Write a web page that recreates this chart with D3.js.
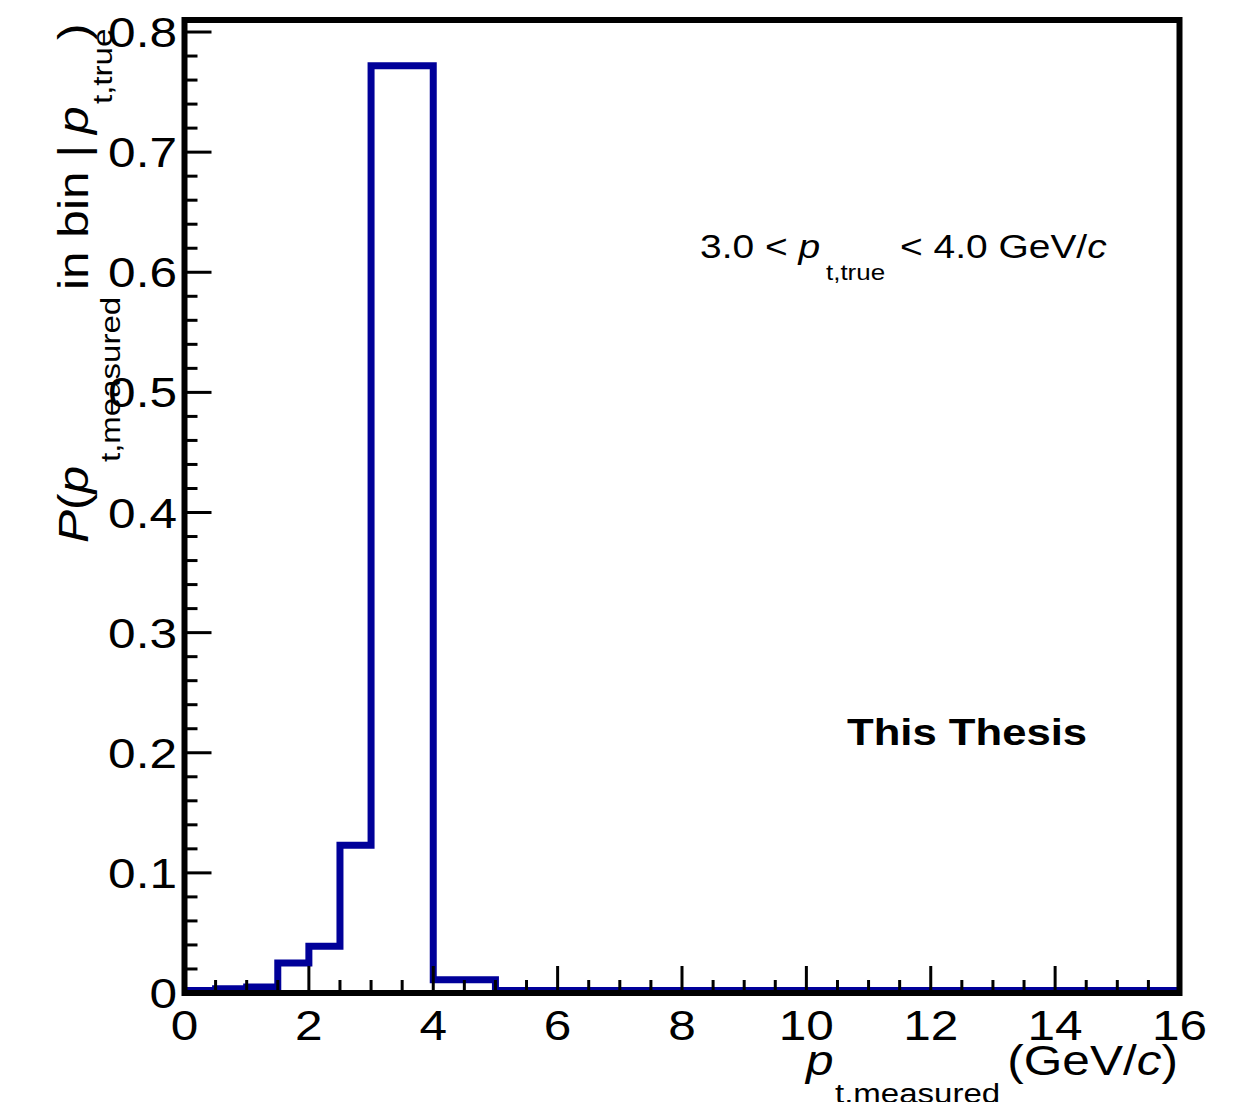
<!DOCTYPE html>
<html>
<head>
<meta charset="utf-8">
<script src="https://cdn.jsdelivr.net/npm/d3@7"></script>
<style>
  body { margin: 0; background: #fff; }
  text { font-family: "Liberation Sans", Arial, Helvetica, sans-serif; fill: #000; }
</style>
</head>
<body>
<div id="chart"></div>
<script>
// histogram: bin edges (GeV/c) and probability per bin
var binEdges  = [0, 0.5, 1.0, 1.5, 2.0, 2.5, 3.0, 4.0, 5.0, 6.0, 8.0, 10.0, 12.0, 16.0];
var binValues = [0.002, 0.0035, 0.005, 0.025, 0.039, 0.123, 0.772, 0.011, 0.002, 0.002, 0.002, 0.002, 0.002];

// axis ticks
var xMajor = [0, 2, 4, 6, 8, 10, 12, 14, 16];
var xLabels = ["0", "2", "4", "6", "8", "10", "12", "14", "16"];
var yMajor = [0, 0.1, 0.2, 0.3, 0.4, 0.5, 0.6, 0.7, 0.8];
var yLabels = ["0", "0.1", "0.2", "0.3", "0.4", "0.5", "0.6", "0.7", "0.8"];

var W = 1241, H = 1102;
var sx = 1.18; // glyphs in the original are a bit wider than Liberation Sans

var svg = d3.select("#chart")
    .append("svg")
    .attr("width", W)
    .attr("height", H);

var x = d3.scaleLinear().domain([0, 16]).range([184.5, 1179.5]);
var y = d3.scaleLinear().domain([0, 0.81]).range([993, 20]);

// minor ticks
var xMinor = d3.range(0, 16.001, 0.5).filter(function (d) { return d % 2 !== 0; });
var yMinor = d3.range(0, 0.8101, 0.02).filter(function (d) { return Math.abs(d * 10 - Math.round(d * 10)) > 1e-6; });

//////////
// HISTOGRAM
//////////
var pts = [];
binValues.forEach(function (v, i) {
    pts.push([x(binEdges[i]), y(v)]);
    pts.push([x(binEdges[i + 1]), y(v)]);
});
svg.append("path")
    .attr("d", d3.line()(pts))
    .attr("fill", "none")
    .attr("stroke", "#000099")
    .attr("stroke-width", 7)
    .attr("stroke-linejoin", "miter");

//////////
// FRAME + TICKS
//////////
var x0 = x.range()[0], x1 = x.range()[1];
var y0 = y.range()[0], y1 = y.range()[1];

svg.append("rect")
    .attr("x", x0).attr("y", y1)
    .attr("width", x1 - x0).attr("height", y0 - y1)
    .attr("fill", "none").attr("stroke", "#000").attr("stroke-width", 6);

var ticks = svg.append("g").attr("stroke", "#000").attr("stroke-width", 3);

ticks.selectAll(".xmaj").data(xMajor).enter().append("line")
    .attr("x1", d => x(d)).attr("x2", d => x(d))
    .attr("y1", y0).attr("y2", y0 - 27);
ticks.selectAll(".xmin").data(xMinor).enter().append("line")
    .attr("x1", d => x(d)).attr("x2", d => x(d))
    .attr("y1", y0).attr("y2", y0 - 13);
ticks.selectAll(".ymaj").data(yMajor).enter().append("line")
    .attr("y1", d => y(d)).attr("y2", d => y(d))
    .attr("x1", x0).attr("x2", x0 + 27);
ticks.selectAll(".ymin").data(yMinor).enter().append("line")
    .attr("y1", d => y(d)).attr("y2", d => y(d))
    .attr("x1", x0).attr("x2", x0 + 13);

//////////
// TICK LABELS
//////////
svg.selectAll(".ylab").data(yMajor).enter().append("text")
    .attr("transform", d => "translate(177," + (y(d) + 15) + ") scale(" + sx + ",1)")
    .attr("text-anchor", "end")
    .style("font-size", "42px")
    .text((d, i) => yLabels[i]);

svg.selectAll(".xlab").data(xMajor).enter().append("text")
    .attr("transform", d => "translate(" + x(d) + ",1040) scale(" + sx + ",1)")
    .attr("text-anchor", "middle")
    .style("font-size", "42px")
    .text((d, i) => xLabels[i]);

//////////
// AXIS TITLES
//////////
function hText(px, py, size, anchor) {
    return svg.append("text")
        .attr("transform", "translate(" + px + "," + py + ") scale(" + sx + ",1)")
        .attr("text-anchor", anchor || "start")
        .style("font-size", size + "px");
}

// x title
hText(806, 1075, 42).style("font-style", "italic").text("p");
hText(835, 1103, 28).text("t,measured");
var gev = hText(1178, 1075, 42, "end");
gev.append("tspan").text("(GeV/");
gev.append("tspan").style("font-style", "italic").text("c");
gev.append("tspan").text(")");

// y title (rotated), positions are screen y where each piece starts
function vText(bx, sy, size) {
    return svg.append("text")
        .attr("transform", "translate(" + bx + "," + sy + ") rotate(-90) scale(" + sx + ",1)")
        .style("font-size", size + "px");
}
var t1 = vText(88, 543, 42);
t1.append("tspan").style("font-style", "italic").text("P");
t1.append("tspan").text("(");
t1.append("tspan").style("font-style", "italic").text("p");
vText(120, 462, 28).text("t,measured");
vText(88, 290, 42).text("in bin | ");
vText(88, 134, 42).style("font-style", "italic").text("p");
vText(112, 104, 28).text("t,true");
vText(88, 40, 42).text(")");

//////////
// ANNOTATIONS
//////////
var a1 = hText(700, 258, 33);
a1.append("tspan").text("3.0 < ");
a1.append("tspan").style("font-style", "italic").text("p");
hText(826, 280, 22).text("t,true");
var a2 = hText(900, 258, 33);
a2.append("tspan").text("< 4.0 GeV/");
a2.append("tspan").style("font-style", "italic").text("c");

hText(847, 745, 37).style("font-weight", "bold").text("This Thesis");
</script>
</body>
</html>
